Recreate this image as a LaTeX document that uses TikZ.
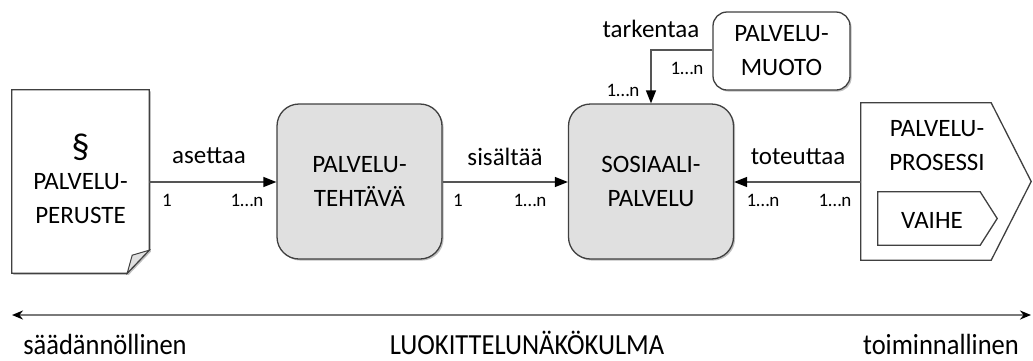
\documentclass[tikz,border=0pt]{standalone}
\usepackage{fontspec}
\setmainfont{Carlito}
\usetikzlibrary{arrows.meta,shadows}

\definecolor{boxgray}{HTML}{E0E0E0}
\definecolor{edgegray}{HTML}{404040}
\definecolor{linegray}{HTML}{555555}
\definecolor{axisgray}{HTML}{7A7A7A}

\tikzset{
  shade3/.style={drop shadow={shadow xshift=1.6pt,shadow yshift=-1.6pt,opacity=0.25,fill=black}},
  bigbox/.style={draw=edgegray,line width=1.3pt,fill=boxgray,rounded corners=22pt,
    minimum width=165pt,minimum height=155pt,align=center,inner sep=0pt,shade3},
  smallbox/.style={draw=edgegray,line width=1.3pt,fill=white,rounded corners=14pt,
    minimum width=137pt,minimum height=78pt,align=center,inner sep=0pt,shade3},
  plain/.style={align=center,inner sep=0pt},
  outline/.style={draw=edgegray,line width=1.3pt,fill=white,line join=miter},
  conn/.style={draw=linegray,line width=1.3pt,-{Triangle[length=13pt,width=10pt,color=black]}},
  relname/.style={inner sep=0pt,font=\fontsize{25}{28}\selectfont},
  mult/.style={inner sep=0pt,font=\fontsize{19}{20}\selectfont},
  axislabel/.style={inner sep=0pt,anchor=base,font=\fontsize{26.5}{30}\selectfont},
}
\newcommand{\tallfont}[1]{\scalebox{1}[1.1]{#1}}

\begin{document}
\begin{tikzpicture}[x=1pt,y=-1pt,font=\fontsize{25}{34}\selectfont]
\useasboundingbox (0,0) rectangle (1033,360);

% legal basis: a sheet with a folded corner
\node[minimum width=137pt,minimum height=183pt,inner sep=0pt] (peruste) at (80.5,181.5) {};
\fill[black,opacity=0.25] ([shift={(1.6,1.6)}]peruste.north west) -- ([shift={(1.6,1.6)}]peruste.north east)
  -- ([shift={(1.6,-21.4)}]peruste.south east) -- ([shift={(-20.4,1.6)}]peruste.south east)
  -- ([shift={(1.6,1.6)}]peruste.south west) -- cycle;
\path[outline] (peruste.north west) -- (peruste.north east) -- ([yshift=23pt]peruste.south east)
  -- ([xshift=-22pt]peruste.south east) -- (peruste.south west) -- cycle;
\path[outline,fill=boxgray,line width=1pt] ([yshift=23pt]peruste.south east) -- ([shift={(-17pt,18pt)}]peruste.south east)
  -- ([xshift=-22pt]peruste.south east) -- cycle;
\node[plain,font=\fontsize{36}{36}\selectfont] (pykala) at (80.5,147) {§};
\node[plain] (perustetxt) at (80.5,199) {PALVELU-\\PERUSTE};

% service task and social service
\node[bigbox] (tehtava) at (359.5,181.5) {PALVELU-\\TEHTÄVÄ};
\node[bigbox] (sosiaali) at (651,181.5) {SOSIAALI-\\PALVELU};

% service form
\node[smallbox] (muoto) at (781.5,51) {PALVELU-\\MUOTO};

% service process: a chevron with a phase inside
\node[minimum width=171pt,minimum height=157pt,inner sep=0pt] (prosessi) at (946.5,181.5) {};
\fill[black,opacity=0.25,shift={(1.6,1.6)}] (prosessi.north west) -- ([xshift=-41pt]prosessi.north east)
  -- ([xshift=-1pt]prosessi.east) -- ([xshift=-41pt]prosessi.south east) -- (prosessi.south west) -- cycle;
\path[outline] (prosessi.north west) -- ([xshift=-41pt]prosessi.north east)
  -- ([xshift=-1pt]prosessi.east) -- ([xshift=-41pt]prosessi.south east) -- (prosessi.south west) -- cycle;
\node[plain] (prosessitxt) at (937,146) {PALVELU-\\PROSESSI};
\node[minimum width=119pt,minimum height=53pt,inner sep=0pt] (vaihe) at (937.5,218.5) {};
\path[outline] (vaihe.north west) -- ([xshift=-17pt]vaihe.north east) -- (vaihe.east)
  -- ([xshift=-17pt]vaihe.south east) -- (vaihe.south west) -- cycle;
\node[plain] (vaihetxt) at (932,220) {VAIHE};

% relations
\draw[conn] (peruste.east |- 0,182) -- (tehtava.west |- 0,182);
\node[relname] (asettaa) at (209,156) {asettaa};
\node[mult] (m1a) at (167,200) {1};
\node[mult] (m1b) at (247,200) {1…n};

\draw[conn] (tehtava.east |- 0,182) -- (sosiaali.west |- 0,182);
\node[relname] (sisaltaa) at (505,157) {sisältää};
\node[mult] (m2a) at (458,200) {1};
\node[mult] (m2b) at (530,200) {1…n};

\draw[conn] (prosessi.west |- 0,182) -- (sosiaali.east |- 0,182);
\node[relname] (toteuttaa) at (798,157) {toteuttaa};
\node[mult] (m3a) at (763,200) {1…n};
\node[mult] (m3b) at (835,200) {1…n};

\draw[conn] (muoto.west |- 0,50) -| (sosiaali.north);
\node[relname] (tarkentaa) at (651,29) {tarkentaa};
\node[mult] (m4a) at (687,68) {1…n};
\node[mult] (m4b) at (623,90) {1…n};

% classification axis
\coordinate (axL) at (12,315);
\coordinate (axR) at (1031,315);
\draw[axisgray,line width=2pt,{Stealth[length=11pt,width=9pt,color=black]}-{Stealth[length=11pt,width=9pt,color=black]}] (axL) -- (axR);
\node[axislabel] (saad) at (105,354) {\tallfont{säädännöllinen}};
\node[axislabel] (luok) at (527,354) {\tallfont{LUOKITTELUNÄKÖKULMA}};
\node[axislabel] (toim) at (941,354) {\tallfont{toiminnallinen}};
\end{tikzpicture}
\end{document}
